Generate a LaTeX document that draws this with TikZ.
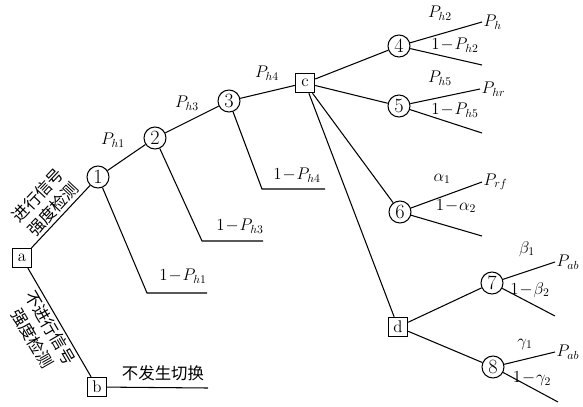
\documentclass[tikz,border=0pt]{standalone}
\usepackage{fontspec}
\newfontfamily\cjk{Noto Sans CJK SC}
\begin{document}
\begin{tikzpicture}[x=0.03cm,y=-0.03cm,font=\Large,line width=0.9pt,
    chance/.style={draw,circle,inner sep=0pt,minimum size=0.66cm,font=\LARGE},
    choice/.style={draw,rectangle,inner sep=0pt,minimum size=0.58cm},
    lab/.style={inner sep=1pt},
    cn/.style={inner sep=2pt,font=\cjk\fontsize{14}{15}\selectfont}]
    \useasboundingbox (0,0) rectangle (583,406);
    %% decision points
    \node[choice] (a) at (22,258) {a};
    \node[choice] (b) at (97,387) {b};
    \node[choice] (c) at (305,83) {c};
    \node[choice] (d) at (398,327) {d};
    %% chance points
    \node[chance] (n1) at (98,177) {1};
    \node[chance] (n2) at (155,138) {2};
    \node[chance] (n3) at (229,101) {3};
    \node[chance] (n4) at (399,46) {4};
    \node[chance] (n5) at (399,106) {5};
    \node[chance] (n6) at (400,212) {6};
    \node[chance] (n7) at (492,283) {7};
    \node[chance] (n8) at (493,367) {8};
    %% free ends
    \coordinate (e1) at (147,293); \coordinate (f1) at (207,293);
    \coordinate (e2) at (202,241); \coordinate (f2) at (263,241);
    \coordinate (e3) at (262,189); \coordinate (f3) at (325,189);
    \coordinate (fb) at (208,388);
    \coordinate (u4) at (482,22);  \coordinate (l4) at (482,65);
    \coordinate (u5) at (480,89);  \coordinate (l5) at (482,133);
    \coordinate (u6) at (482,182); \coordinate (l6) at (482,236);
    \coordinate (u7) at (555,262); \coordinate (l7) at (555,316);
    \coordinate (u8) at (555,352); \coordinate (l8) at (558,402);
    %% main path
    \draw (a) -- node[cn,sloped,above,align=center] (ta) {进行信号\\[3pt]强度检测} (n1);
    \draw (n1) -- (n2) -- (n3) -- (c);
    \draw (a) -- node[cn,sloped,below,align=center] (tb) {不进行信号\\[3pt]强度检测} (b);
    \draw (b) -- (fb);
    \draw (n1) -- (e1) -- (f1);
    \draw (n2) -- (e2) -- (f2);
    \draw (n3) -- (e3) -- (f3);
    %% branches of c and d
    \draw (c) -- (n4); \draw (c) -- (n5); \draw (c) -- (n6); \draw (c) -- (d);
    \draw (d) -- (n7); \draw (d) -- (n8);
    \draw (n4) -- (u4); \draw (n4) -- (l4);
    \draw (n5) -- (u5); \draw (n5) -- (l5);
    \draw (n6) -- (u6); \draw (n6) -- (l6);
    \draw (n7) -- (u7); \draw (n7) -- (l7);
    \draw (n8) -- (u8); \draw (n8) -- (l8);
    %% labels
    \node[cn] (tn) at (163,373) {不发生切换};
    \node[lab] (p1) at (113,140) {$P_{h1}$};
    \node[lab] (p3) at (187,103) {$P_{h3}$};
    \node[lab] (p4) at (267,73) {$P_{h4}$};
    \node[lab] (q1) at (183,276) {$1\!-\!P_{h1}$};
    \node[lab] (q3) at (240,226) {$1\!-\!P_{h3}$};
    \node[lab] (q4) at (297,175) {$1\!-\!P_{h4}$};
    \node[lab] (p2) at (440,13) {$P_{h2}$};
    \node[lab] (q2) at (455,45) {$1\!-\!P_{h2}$};
    \node[lab,anchor=west] (rh) at (u4) {$P_{h}$};
    \node[lab] (p5) at (440,78) {$P_{h5}$};
    \node[lab] (q5) at (455,110) {$1\!-\!P_{h5}$};
    \node[lab,anchor=west] (rhr) at (u5) {$P_{hr}$};
    \node[lab] (al) at (442,179) {$\alpha_1$};
    \node[lab] (qa) at (456,206) {$1\!-\!\alpha_2$};
    \node[lab,anchor=west] (rrf) at (u6) {$P_{rf}$};
    \node[lab] (be) at (527,249) {$\beta_1$};
    \node[lab] (qb) at (530,290) {$1\!-\!\beta_2$};
    \node[lab,anchor=west] (rab) at (u7) {$P_{ab}$};
    \node[lab] (ga) at (525,344) {$\gamma_1$};
    \node[lab] (qg) at (532,379) {$1\!-\!\gamma_2$};
    \node[lab,anchor=west] (rab2) at (u8) {$P_{ab}$};
\end{tikzpicture}
\end{document}
